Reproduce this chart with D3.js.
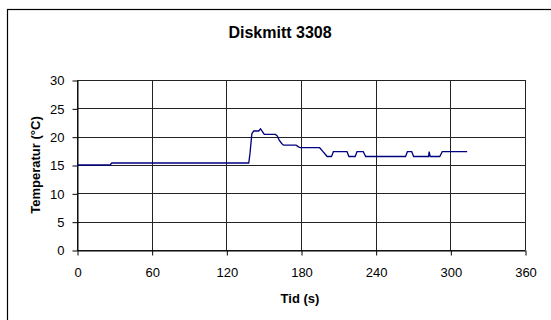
<!DOCTYPE html>
<html><head><meta charset="utf-8">
<script src="https://cdn.jsdelivr.net/npm/d3@7"></script>
<style>body{margin:0;background:#fff}svg{display:block;font-family:"Liberation Sans",Arial,sans-serif}</style>
</head><body><svg id="c" width="551" height="320"></svg>
<script>
const times = [0,26.5,28,138,139,140.5,142,146,147.5,149,150.5,159.5,161,162.5,164.5,166,176,178,179.5,195,197.5,199.5,201,204.5,206,217,218.5,223.5,225,230,232,264,265.5,269,270.5,282.5,283,283.8,291.5,293.5,313.5];
const temps = [15.0,15.0,15.35,15.35,17.0,20.5,21.0,21.0,21.4,20.9,20.4,20.4,20.1,19.4,18.8,18.5,18.5,18.2,18.05,18.05,17.4,16.9,16.5,16.5,17.35,17.35,16.5,16.5,17.35,17.35,16.5,16.5,17.35,17.35,16.5,16.5,17.35,16.5,16.5,17.35,17.35];
const xTicks = [0,60,120,180,240,300,360];
const yTicks = [0,5,10,15,20,25,30];
const title = "Diskmitt 3308";
const xTitle = "Tid (s)";
const yTitle = "Temperatur (°C)";

const svg = d3.select("#c");
const L=77, R=525, T=80, B=250;
const x = d3.scaleLinear().domain([0,360]).range([L,R]);
const y = d3.scaleLinear().domain([0,30]).range([B,T]);

svg.append("rect").attr("x",7.5).attr("y",9.5).attr("width",700).attr("height",400)
  .attr("fill","none").attr("stroke","#000").attr("stroke-width",1.2);

svg.append("text").attr("x",280).attr("y",38).attr("text-anchor","middle")
  .attr("font-weight","bold").attr("font-size",16).text(title);

const g = svg.append("g");
g.selectAll(".hg").data(yTicks).enter().append("line")
  .attr("x1",L).attr("x2",R).attr("y1",d=>Math.round(y(d))+0.5).attr("y2",d=>Math.round(y(d))+0.5)
  .attr("stroke","#222").attr("stroke-width",1);
g.selectAll(".vg").data(xTicks).enter().append("line")
  .attr("y1",T).attr("y2",B).attr("x1",d=>Math.round(x(d))+0.5).attr("x2",d=>Math.round(x(d))+0.5)
  .attr("stroke","#222").attr("stroke-width",1);

const xa = svg.append("g").attr("transform",`translate(0.5,${Math.round(B)+0.5})`)
  .call(d3.axisBottom(x).tickValues(xTicks).tickSize(5).tickPadding(12).tickSizeOuter(0));
const ya = svg.append("g").attr("transform",`translate(${L+0.5},0.5)`)
  .call(d3.axisLeft(y).tickValues(yTicks).tickSize(5).tickPadding(8).tickSizeOuter(0));
[xa,ya].forEach(a=>{a.select(".domain").attr("stroke","#000");
  a.selectAll(".tick line").attr("stroke","#000");
  a.selectAll("text").attr("font-size",13).attr("fill","#000").attr("font-family","Liberation Sans, Arial, sans-serif");});

const data = times.map((t,i)=>[t,temps[i]]);
svg.append("path").datum(data).attr("fill","none").attr("stroke","#000080").attr("stroke-width",1.3)
  .attr("d",d3.line().x(d=>x(d[0])).y(d=>y(d[1])));

svg.append("text").attr("x",300).attr("y",303).attr("text-anchor","middle")
  .attr("font-weight","bold").attr("font-size",13).text(xTitle);
svg.append("text").attr("transform","translate(40,165) rotate(-90)").attr("text-anchor","middle")
  .attr("font-weight","bold").attr("font-size",13).text(yTitle);
</script></body></html>
